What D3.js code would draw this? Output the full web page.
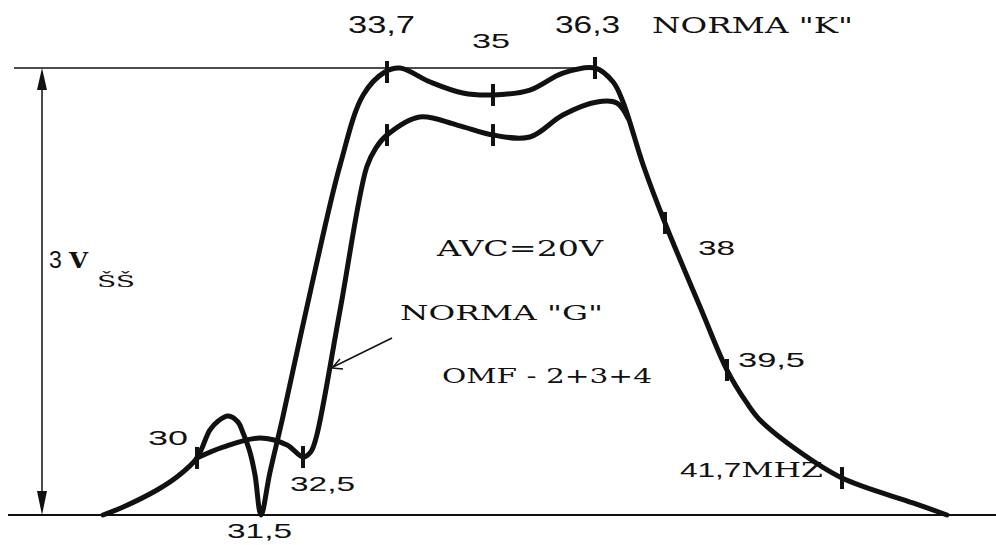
<!DOCTYPE html>
<html>
<head>
<meta charset="utf-8" />
<script src="https://cdn.jsdelivr.net/npm/d3@7"></script>
<style>
  body { margin: 0; background: #fff; }
  svg { display: block; }
  .num { font-family: "Liberation Sans", Arial, sans-serif; fill: #111; }
  .ser { font-family: "DejaVu Serif", "Liberation Serif", serif; fill: #111; }
</style>
</head>
<body>
<script>
  // IF response, frequency in MHz, amplitude in V (peak-peak)
  // -----------------------------------------------------------
  // hand drawn axis: marked frequencies are not evenly spaced
  var axisFreq = [28.0, 30, 31.5, 32.5, 33.7, 35, 36.3, 38, 39.5, 41.7, 43.7];

  // NORMA "K"
  var kFreq = [28.0, 28.43, 29.15, 29.57, 30.0, 30.30, 30.49, 30.73, 30.96, 31.08, 31.24, 31.36, 31.5,
               31.71, 32.02, 32.61, 33.03, 33.36, 33.67, 33.86, 34.23, 34.63, 35.0, 35.47, 35.89, 36.3,
               36.74, 36.98, 37.47, 38.0, 38.85, 39.5, 39.88, 40.13, 40.84, 41.7, 43.05, 43.7];
  var kVolt = [0, 0.054, 0.168, 0.255, 0.383, 0.570, 0.630, 0.664, 0.624, 0.550, 0.423, 0.268, 0,
               0.282, 0.658, 1.51, 2.349, 2.819, 2.973, 3.0, 2.906, 2.832, 2.819, 2.852, 2.966, 3.0,
               2.906, 2.772, 2.349, 1.960, 1.396, 0.973, 0.752, 0.638, 0.436, 0.248, 0.081, 0];

  // NORMA "G" (joins K on the right flank)
  var gFreq = [30.0, 30.61, 31.48, 32.12, 32.5, 32.61, 32.69, 33.03, 33.41, 33.54, 33.7, 34.10, 34.56,
               35.0, 35.47, 35.89, 36.35, 36.83, 37.10];
  var gVolt = [0.383, 0.456, 0.517, 0.470, 0.389, 0.423, 0.523, 1.376, 2.336, 2.463, 2.55, 2.671, 2.617,
               2.550, 2.537, 2.685, 2.772, 2.765, 2.664];

  // marker ticks on the curves
  var tickFreq = [30, 32.5, 33.7, 33.7, 35, 35, 36.3, 38, 39.5, 41.7];
  var tickVolt = [0.383, 0.389, 2.973, 2.55, 2.819, 2.55, 3.0, 1.96, 0.973, 0.248];

  // frequency labels
  var labelFreq = [30, 31.5, 32.5, 33.7, 35, 36.3, 38, 39.5, 41.7];
  var labelText = ["30", "31,5", "32,5", "33,7", "35", "36,3", "38", "39,5", "41,7MHZ"];

  var fullScale = 3;

  //-------------------------------------------

  var w = 996, h = 545;

  var x = d3.scaleLinear()
            .domain(axisFreq)
            .range([103, 197, 261, 303, 387, 493, 595, 665, 727, 842, 947]);
  var y = d3.scaleLinear().domain([0, fullScale]).range([515, 68]);

  var svg = d3.select("body").append("svg")
              .attr("width", w)
              .attr("height", h);

  // baseline and 3 V reference line
  svg.append("line")
     .attr("x1", 8).attr("x2", 996)
     .attr("y1", y(0)).attr("y2", y(0))
     .attr("stroke", "#111").attr("stroke-width", 2);
  svg.append("line")
     .attr("x1", 14).attr("x2", x(36.3))
     .attr("y1", y(fullScale)).attr("y2", y(fullScale))
     .attr("stroke", "#111").attr("stroke-width", 1.6);

  // double arrow for amplitude
  var ax = 42;
  svg.append("line")
     .attr("x1", ax).attr("x2", ax)
     .attr("y1", y(fullScale) + 10).attr("y2", y(0) - 10)
     .attr("stroke", "#111").attr("stroke-width", 1.5);
  svg.append("path")
     .attr("d", "M" + ax + "," + y(fullScale) + "l-5,22h10z")
     .attr("fill", "#111");
  svg.append("path")
     .attr("d", "M" + ax + "," + y(0) + "l-5,-24h10z")
     .attr("fill", "#111");

  svg.append("text").attr("class", "num")
     .attr("x", 49).attr("y", 268)
     .style("font-size", "23px").text("3");
  svg.append("text").attr("class", "ser")
     .attr("x", 69).attr("y", 268)
     .attr("textLength", 19).attr("lengthAdjust", "spacingAndGlyphs")
     .style("font-size", "22px").style("font-weight", "bold").text("V");
  svg.append("text")
     .attr("class", "ser")
     .attr("x", 97).attr("y", 287)
     .attr("textLength", 38).attr("lengthAdjust", "spacingAndGlyphs")
     .style("font-size", "16px")
     .text("ŠŠ");

  // curves
  var line = d3.line()
               .x(function(d) { return x(d[0]); })
               .y(function(d) { return y(d[1]); })
               .curve(d3.curveCatmullRom.alpha(0.5));

  var kData = d3.zip(kFreq, kVolt);
  var gData = d3.zip(gFreq, gVolt);

  svg.append("path")
     .attr("d", line(kData))
     .attr("fill", "none").attr("stroke", "#111")
     .attr("stroke-width", 5).attr("stroke-linejoin", "round").attr("stroke-linecap", "round");
  svg.append("path")
     .attr("d", line(gData))
     .attr("fill", "none").attr("stroke", "#111")
     .attr("stroke-width", 5).attr("stroke-linejoin", "round").attr("stroke-linecap", "round");

  // marker ticks
  svg.selectAll("line.tick")
     .data(d3.zip(tickFreq, tickVolt))
     .enter().append("line")
     .attr("class", "tick")
     .attr("x1", function(d) { return x(d[0]); })
     .attr("x2", function(d) { return x(d[0]); })
     .attr("y1", function(d) { return y(d[1]) - 11; })
     .attr("y2", function(d) { return y(d[1]) + 11; })
     .attr("stroke", "#111").attr("stroke-width", 4);

  // frequency labels: dx from marker, baseline y, width
  var labelPos = [
    [-49, 445, 40], [-34, 538, 65], [-13, 491, 65], [-39, 33, 67], [-21, 48, 38],
    [-40, 33, 65], [33, 255, 37], [11, 367, 67], [-162, 477, 143]
  ];
  labelText.forEach(function(t, i) {
    var p = labelPos[i];
    var txt = svg.append("text")
                 .attr("x", x(labelFreq[i]) + p[0])
                 .attr("y", p[1])
                 .attr("textLength", p[2])
                 .attr("lengthAdjust", "spacingAndGlyphs")
                 .style("font-size", (p[1] === 33 ? 24 : 21) + "px");
    if (t.indexOf("MHZ") >= 0) {
      txt.append("tspan").attr("class", "num").text("41,7");
      txt.append("tspan").attr("class", "ser").text("MHZ");
    } else {
      txt.attr("class", "num").text(t);
    }
  });

  // annotations
  var notes = [
    ['NORMA "K"', 652, 33, 201, 23],
    ["AVC=20V", 437, 256, 166, 23],
    ['NORMA "G"', 400, 320, 203, 21],
    ["OMF - 2+3+4", 442, 383, 210, 20]
  ];
  notes.forEach(function(n) {
    svg.append("text")
       .attr("class", "ser")
       .attr("x", n[1]).attr("y", n[2])
       .attr("textLength", n[3])
       .attr("lengthAdjust", "spacingAndGlyphs")
       .style("font-size", n[4] + "px")
       .text(n[0]);
  });

  // pointer from NORMA "G" to its curve
  svg.append("line")
     .attr("x1", 392).attr("y1", 338)
     .attr("x2", 333).attr("y2", 367)
     .attr("stroke", "#111").attr("stroke-width", 1.5);
  svg.append("path")
     .attr("d", "M332,368 l8,-9 M332,368 l11,1")
     .attr("stroke", "#111").attr("stroke-width", 1.5).attr("fill", "none");
</script>
</body>
</html>
